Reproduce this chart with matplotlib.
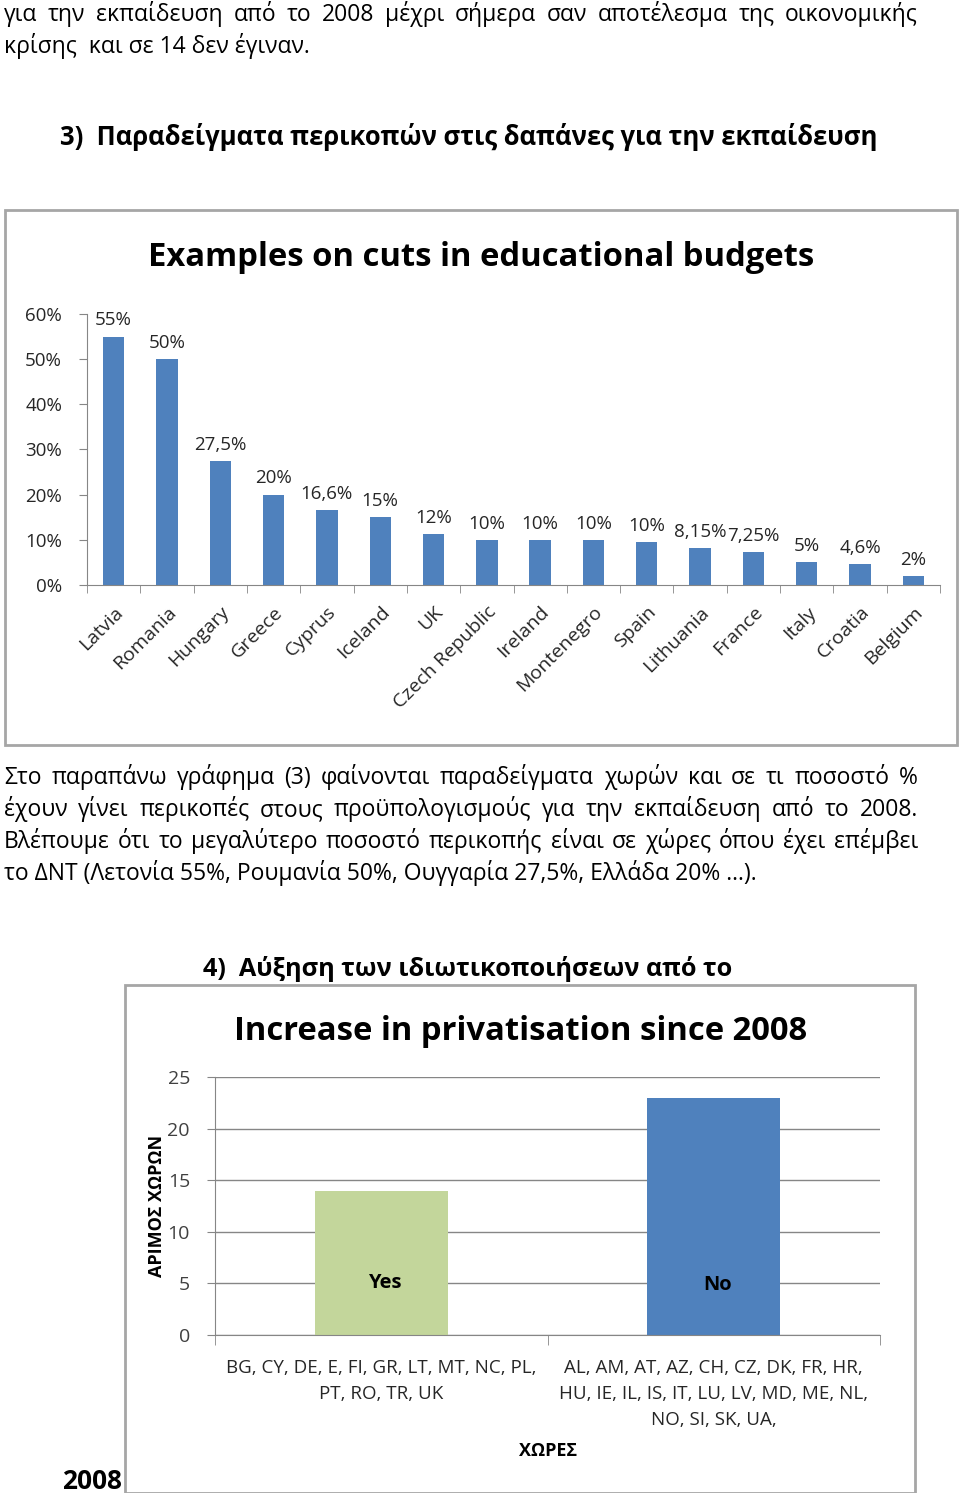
import numpy as np
import matplotlib
matplotlib.use("Agg")
import matplotlib.pyplot as plt
from matplotlib.patches import Rectangle

plt.rcParams['font.family'] = ['Open Sans', 'DejaVu Sans']

W, H = 960, 1493

# chart 3: cuts in educational budgets
countries = ['Latvia', 'Romania', 'Hungary', 'Greece', 'Cyprus', 'Iceland', 'UK',
             'Czech Republic', 'Ireland', 'Montenegro', 'Spain', 'Lithuania',
             'France', 'Italy', 'Croatia', 'Belgium']
cuts = [55, 50, 27.5, 20, 16.6, 15, 11.3, 10, 10, 10, 9.5, 8.15, 7.25, 5, 4.6, 2]
cut_labels = ['55%', '50%', '27,5%', '20%', '16,6%', '15%', '12%', '10%', '10%',
              '10%', '10%', '8,15%', '7,25%', '5%', '4,6%', '2%']
pct_ticks = [0, 10, 20, 30, 40, 50, 60]

# chart 4: privatisation
answers = ['Yes', 'No']
n_countries = [14, 23]
country_lists = ['BG, CY, DE, E, FI, GR, LT, MT, NC, PL,\nPT, RO, TR, UK',
                 'AL, AM, AT, AZ, CH, CZ, DK, FR, HR,\nHU, IE, IL, IS, IT, LU, LV, MD, ME, NL,\nNO, SI, SK, UA,']
count_ticks = [0, 5, 10, 15, 20, 25]

para1 = ['για την εκπαίδευση από το 2008 μέχρι σήμερα σαν αποτέλεσμα της οικονομικής',
         'κρίσης  και σε 14 δεν έγιναν.']
para2 = ['Στο παραπάνω γράφημα (3) φαίνονται παραδείγματα χωρών και σε τι ποσοστό %',
         'έχουν γίνει περικοπές στους προϋπολογισμούς για την εκπαίδευση από το 2008.',
         'Βλέπουμε ότι το μεγαλύτερο ποσοστό περικοπής είναι σε χώρες όπου έχει επέμβει',
         'το ΔΝΤ (Λετονία 55%, Ρουμανία 50%, Ουγγαρία 27,5%, Ελλάδα 20% …).']

BLUE = '#4F81BD'
GREEN = '#C3D69B'
GREY = '#868686'

fig = plt.figure(figsize=(W / 100, H / 100), dpi=100)
fig.patch.set_facecolor('white')
rend = fig.canvas.get_renderer()


def fx(x):
    return x / W


def fy(y):
    return 1 - y / H


def width_px(t):
    return t.get_window_extent(renderer=rend).width


def fit(s, x0, x1, y, size, weight='normal'):
    # scale font so the text spans x0..x1 (y = baseline)
    t = fig.text(fx(x0), fy(y), s, fontsize=size, fontweight=weight, va='baseline', ha='left')
    t.set_fontsize(size * (x1 - x0) / width_px(t))
    return t


def justify(s, x0, x1, y, size):
    words = s.split()
    ts = [fig.text(0, fy(y), w, fontsize=size, va='baseline') for w in words]
    ws = [width_px(t) for t in ts]
    gap = (x1 - x0 - sum(ws)) / (len(words) - 1)
    x = x0
    for t, w in zip(ts, ws):
        t.set_x(fx(x))
        x += w + gap


def left(s, x0, y, size, weight='normal'):
    return fig.text(fx(x0), fy(y), s, fontsize=size, fontweight=weight, va='baseline')


BODY = 16.5

# top text (y values are baselines)
justify(para1[0], 4, 918, 21, BODY)
left(para1[1], 4, 53, BODY)
fit('3)  Παραδείγματα περικοπών στις δαπάνες για την εκπαίδευση', 60, 877, 145, 17, 'bold')

# box for chart 3
fig.patches.append(Rectangle((fx(5), fy(745)), fx(952), (745 - 210) / H, transform=fig.transFigure,
                             facecolor='white', edgecolor='#A6A6A6', lw=2, zorder=-1))
fit('Examples on cuts in educational budgets', 148, 813, 266, 21, 'bold')

ax1 = fig.add_axes([fx(87), fy(585), fx(940 - 87), (585 - 314) / H])
x = np.arange(len(countries))
ax1.bar(x, cuts, width=0.4, color=BLUE, zorder=2)
for xi, v, lab in zip(x, cuts, cut_labels):
    ax1.text(xi, v + 1.6, lab, ha='center', va='bottom', fontsize=13.5, color='#262626')
ax1.set_xlim(-0.5, len(countries) - 0.5)
ax1.set_ylim(0, 60)
ax1.set_yticks(pct_ticks)
ax1.set_yticklabels([f'{v}%' for v in pct_ticks], fontsize=13.5, color='#262626')
ax1.set_xticks(x)
ax1.set_xticklabels(countries, rotation=45, ha='right', va='top', rotation_mode='anchor',
                    fontsize=14, color='#262626')
ax1.set_xticks(np.arange(-0.5, len(countries)), minor=True)
ax1.tick_params(axis='x', which='major', length=0, pad=13)
ax1.tick_params(axis='x', which='minor', length=6, color=GREY, direction='out')
ax1.tick_params(axis='y', length=6, color=GREY, direction='out', pad=12)
for sp in ['top', 'right']:
    ax1.spines[sp].set_visible(False)
for sp in ['left', 'bottom']:
    ax1.spines[sp].set_color(GREY)
ax1.patch.set_alpha(0)

# middle text
for i, line in enumerate(para2[:3]):
    justify(line, 4, 918, 784 + 32 * i, BODY)
left(para2[3], 4, 880, BODY)

fit('4)  Αύξηση των ιδιωτικοποιήσεων από το', 203, 734, 976, 17, 'bold')
fit('2008', 62, 122, 1489, 17, 'bold')

# box for chart 4
fig.patches.append(Rectangle((fx(125), fy(1493)), fx(915 - 125), (1493 - 985) / H, transform=fig.transFigure,
                             facecolor='white', edgecolor='#A6A6A6', lw=2, zorder=-1))
fit('Increase in privatisation since 2008', 234, 806, 1040, 20, 'bold')

ax2 = fig.add_axes([fx(215), fy(1335), fx(880 - 215), (1335 - 1077) / H])
x2 = np.arange(len(answers))
ax2.bar(x2, n_countries, width=0.4, color=[GREEN, BLUE], zorder=2)
for xi, lab in zip(x2, answers):
    ax2.text(xi + 0.01, 5 - 0.2 * xi, lab, ha='center', va='center', fontsize=14.5,
             fontweight='bold', color='black', zorder=3)
ax2.set_xlim(-0.5, 1.5)
ax2.set_ylim(0, 25)
ax2.set_yticks(count_ticks)
ax2.set_yticklabels([str(v) for v in count_ticks], fontsize=14, color='#404040')
ax2.yaxis.grid(True, color=GREY, lw=1)
ax2.set_axisbelow(True)
ax2.set_xticks(x2)
ax2.set_xticklabels(country_lists, fontsize=13.5, color='#262626', linespacing=1.6, va='top')
ax2.set_xticks([-0.5, 0.5, 1.5], minor=True)
ax2.tick_params(axis='x', which='major', length=0, pad=17)
ax2.tick_params(axis='x', which='minor', length=7, color=GREY, direction='out')
ax2.tick_params(axis='y', length=6, color=GREY, direction='out', pad=12)
for sp in ['top', 'right']:
    ax2.spines[sp].set_visible(False)
for sp in ['left', 'bottom']:
    ax2.spines[sp].set_color(GREY)
ax2.patch.set_alpha(0)
fig.text(fx(157), fy(1206), 'ΑΡΙΜΟΣ ΧΩΡΩΝ', rotation=90, ha='center', va='center',
         fontsize=13, fontweight='bold')
fig.text(fx(548), fy(1451), 'ΧΩΡΕΣ', ha='center', va='center', fontsize=13, fontweight='bold')

fig.savefig('out.png', dpi=100)
